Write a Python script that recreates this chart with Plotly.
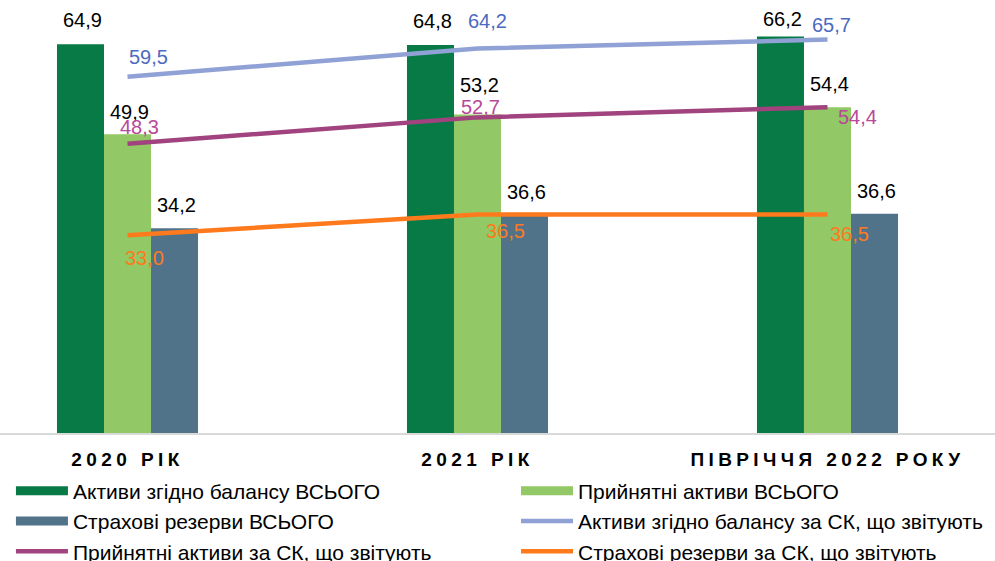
import plotly.graph_objects as go

categories = ["2020 РІК", "2021 РІК", "ПІВРІЧЧЯ 2022 РОКУ"]

bar_names = ["Активи згідно балансу ВСЬОГО", "Прийнятні активи ВСЬОГО", "Страхові резерви ВСЬОГО"]
assets_total = [64.9, 64.8, 66.2]
eligible_total = [49.9, 53.2, 54.4]
reserves_total = [34.2, 36.6, 36.6]

line_names = ["Активи згідно балансу за СК, що звітують",
              "Прийнятні активи за СК, що звітують",
              "Страхові резерви за СК, що звітують"]
assets_reporting = [59.5, 64.2, 65.7]
eligible_reporting = [48.3, 52.7, 54.4]
reserves_reporting = [33.0, 36.5, 36.5]

def fmt(v):
    return f"{v:.1f}".replace(".", ",")

FONT = "Liberation Sans, Arial, sans-serif"
bar_colors = ["#077A45", "#92C865", "#50738A"]
line_colors = ["#8FA1D5", "#A1437E", "#FF7A1C"]
label_colors = ["#4C6AC0", "#B8489A", "#FF7A1C"]

# legend column assignment (two-column legend, filled row by row)
bar_legend = ["legend", "legend2", "legend"]
line_legend = ["legend2", "legend", "legend2"]

fig = go.Figure()
bar_series = [assets_total, eligible_total, reserves_total]
for name, vals, col, lg in zip(bar_names, bar_series, bar_colors, bar_legend):
    fig.add_trace(go.Bar(x=categories, y=vals, name=name, marker_color=col,
                         marker_line_width=0, legend=lg))

line_series = [assets_reporting, eligible_reporting, reserves_reporting]
for name, vals, col, lg in zip(line_names, line_series, line_colors, line_legend):
    fig.add_trace(go.Scatter(x=categories, y=vals, name=name, mode="lines",
                             line=dict(color=col, width=4.5), legend=lg))

# bar value labels
bar_xshift = [-47, 0, 47]
bar_yshift = [[24, 24, 18], [22, 29, 23], [23, 22, 23]]
for si, vals in enumerate(bar_series):
    for ci, v in enumerate(vals):
        fig.add_annotation(x=categories[ci], y=v, text=fmt(v), showarrow=False,
                           xshift=bar_xshift[si] + 2, yshift=bar_yshift[si][ci],
                           yanchor="middle", xanchor="center",
                           font=dict(family=FONT, size=20, color="#000000"))

# line value labels
line_dx = [[21, 10, 4], [12, 3, 30], [17, 28, 22]]
line_dy = [[20, 28, 15], [17, 10, -10], [-23, -17, -20]]
for si, vals in enumerate(line_series):
    for ci, v in enumerate(vals):
        fig.add_annotation(x=categories[ci], y=v, text=fmt(v), showarrow=False,
                           xshift=line_dx[si][ci], yshift=line_dy[si][ci],
                           yanchor="middle", xanchor="center",
                           font=dict(family=FONT, size=20, color=label_colors[si]))

legend_style = dict(orientation="v", y=-0.0868, yanchor="top", xanchor="left",
                    font=dict(family=FONT, size=21, color="#000000"),
                    traceorder="normal", itemwidth=52, bgcolor="rgba(0,0,0,0)",
                    tracegroupgap=0)

fig.update_layout(
    width=995, height=561,
    margin=dict(l=0, r=0, t=0, b=128, pad=0, autoexpand=False),
    paper_bgcolor="white", plot_bgcolor="white",
    barmode="group", bargap=0.597, bargroupgap=0,
    font=dict(family=FONT, color="#000000"),
    showlegend=True,
    legend=dict(x=0.011, **legend_style),
    legend2=dict(x=0.5186, **legend_style),
    xaxis=dict(range=[-0.3643, 2.4786], showgrid=False, zeroline=False,
               showline=True, linecolor="#D9D9D9", linewidth=2,
               ticks="outside", ticklen=8, tickcolor="rgba(0,0,0,0)",
               tickfont=dict(family=FONT, size=19, color="#000000", weight="bold")),
    yaxis=dict(range=[0, 72.3], visible=False, showgrid=False, zeroline=False),
)

post = """
document.body.style.margin = '0';
document.querySelectorAll('.xtick text').forEach(function(t){ t.style.letterSpacing = '4.4px'; });
document.querySelectorAll('.legendpoints path').forEach(function(p){
  var d = p.getAttribute('d') || '';
  if (d.indexOf('M6,6H-6') === 0) {
    p.setAttribute('d', 'M-26,4.5h52v-9h-52Z');
    p.setAttribute('transform', 'translate(31,0)');
  }
});
"""
fig.write_html("out.html", post_script=post, config={"displayModeBar": False})
